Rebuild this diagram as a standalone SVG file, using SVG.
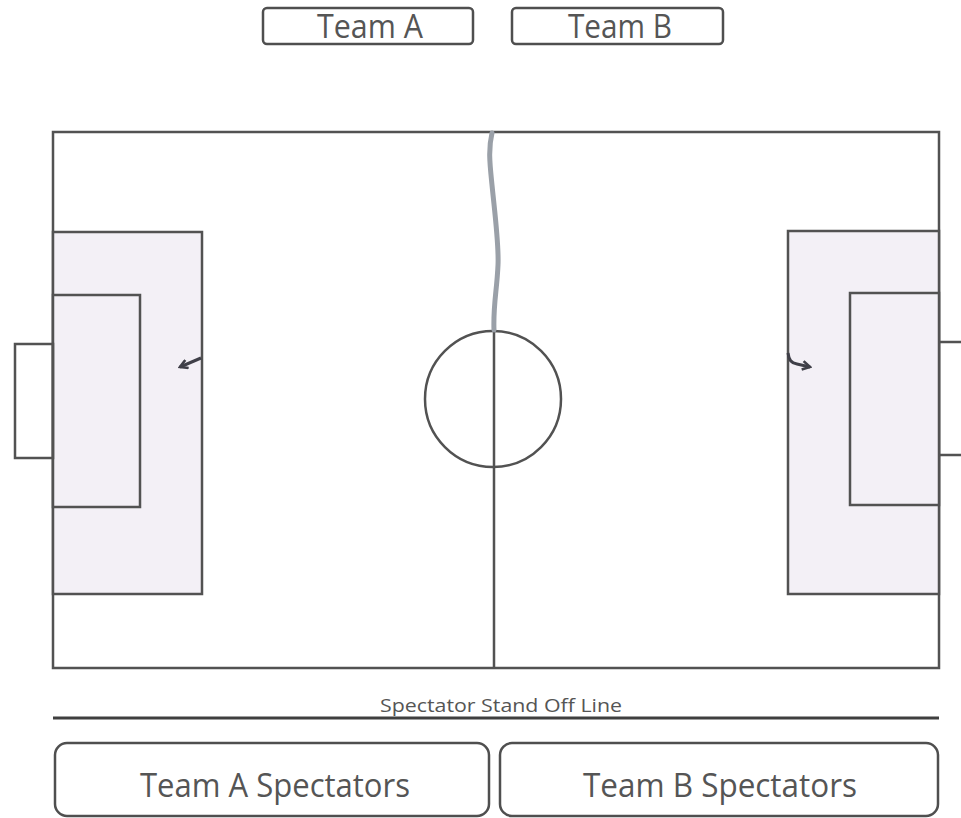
<svg xmlns="http://www.w3.org/2000/svg" width="961" height="818" viewBox="0 0 961 818">
<style>
.ln{fill:none;stroke:#525252;stroke-width:2.5}
.box{fill:#ffffff;stroke:#4f4f4f;stroke-width:2.5}
.pen{fill:#f3f0f6;stroke:#525252;stroke-width:2.5}
.t{font-family:"Open Sans","Noto Sans",sans-serif;fill:#555555;text-anchor:middle}
</style>
<defs>
<marker id="ah" viewBox="0 0 10 10" refX="8" refY="5" markerWidth="3.6" markerHeight="3.6" orient="auto" markerUnits="strokeWidth">
<path d="M1,1 L8,5 L1,9" fill="none" stroke="#3f3f48" stroke-width="2.4"/>
</marker>
</defs>
<rect width="961" height="818" fill="#ffffff"/>
<g id="team-a">
<rect class="box" x="263" y="8" width="210" height="36" rx="4"/>
<text class="t" x="370" y="38" font-size="33" textLength="106" lengthAdjust="spacingAndGlyphs">Team A</text>
</g>
<g id="team-b">
<rect class="box" x="512" y="8" width="211" height="36" rx="4"/>
<text class="t" x="620" y="38" font-size="33" textLength="104" lengthAdjust="spacingAndGlyphs">Team B</text>
</g>
<g id="field">
<rect class="ln" x="53" y="132" width="886" height="536"/>
<line class="ln" x1="494" y1="330" x2="494" y2="668"/>
<circle class="ln" cx="493" cy="399" r="68"/>
</g>
<g id="left-penalty-area">
<rect class="pen" x="53" y="232" width="149" height="362"/>
<rect class="pen" x="53" y="295" width="87" height="212"/>
<rect class="ln" x="15" y="344" width="38" height="114"/>
</g>
<g id="right-penalty-area">
<rect class="pen" x="788" y="231" width="151" height="363"/>
<rect class="pen" x="850" y="293" width="89" height="212"/>
<path class="ln" d="M939,342 H963 M939,455 H963"/>
</g>
<g id="halfway-mark">
<path d="M492,133 C488,150 490,165 492,185 C495,215 499,245 498,265 C497,290 493,305 494,330" fill="none" stroke="#9aa0a8" stroke-width="5" stroke-linecap="round"/>
</g>
<g id="connectors">
<path d="M201,358 L180,367" fill="none" stroke="#3f3f48" stroke-width="3" marker-end="url(#ah)"/>
<path d="M788,353 C789,360 791,363 797,364 L810,367" fill="none" stroke="#3f3f48" stroke-width="3" marker-end="url(#ah)"/>
</g>
<g id="stand-off-line">
<text class="t" x="501" y="712" font-size="19" textLength="242" lengthAdjust="spacingAndGlyphs">Spectator Stand Off Line</text>
<line x1="53" y1="718" x2="939" y2="718" stroke="#3f3f3f" stroke-width="3"/>
</g>
<g id="team-a-spectators">
<rect class="box" x="55" y="743" width="434" height="73" rx="12"/>
<text class="t" x="275" y="797" font-size="33" textLength="270" lengthAdjust="spacingAndGlyphs">Team A Spectators</text>
</g>
<g id="team-b-spectators">
<rect class="box" x="500" y="743" width="438" height="73" rx="12"/>
<text class="t" x="720" y="797" font-size="33" textLength="274" lengthAdjust="spacingAndGlyphs">Team B Spectators</text>
</g>
</svg>
